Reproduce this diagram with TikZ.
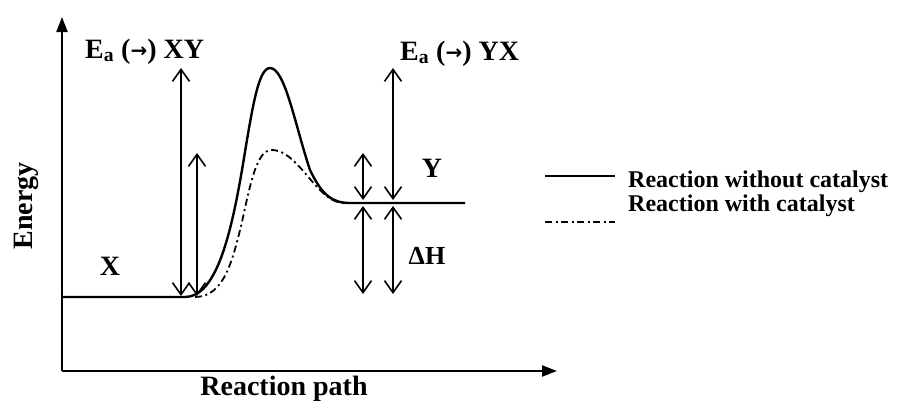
\documentclass[tikz,border=0pt]{standalone}
\usepackage{fontspec}
\setmainfont{Liberation Serif}
\newfontfamily\arrfont{DejaVu Sans}
\usetikzlibrary{arrows.meta}
\newcommand{\rarr}{{\arrfont\bfseries\fontsize{20}{22}\selectfont\raisebox{1pt}{\char"2192}}}
\tikzset{
  axis/.style={line width=2.2pt,-{Triangle[length=15pt,width=11pt]}},
  curve/.style={line width=2.4pt},
  catcurve/.style={line width=1.8pt,dash pattern=on 7pt off 3.5pt on 2pt off 3.5pt},
  dbl/.style={line width=1.6pt,{Straight Barb[length=12pt,width=17pt,line width=1.6pt]}-{Straight Barb[length=12pt,width=17pt,line width=1.6pt]}},
  lbl/.style={font=\bfseries\fontsize{28}{30}\selectfont,inner sep=0pt},
  leg/.style={font=\bfseries\fontsize{24}{26}\selectfont,inner sep=0pt,anchor=base west},
}
\begin{document}
\begin{tikzpicture}[x=1pt,y=-1pt]
\useasboundingbox (0,0) rectangle (902,415);
% axes
\coordinate (O) at (62,371);
\coordinate (Ytop) at (62,17);
\coordinate (Xend) at (557,371);
\draw[axis] (O) -- (Ytop);
\draw[axis] (O) -- (Xend);
% solid curve
\coordinate (s0) at (62,297);
\coordinate (s1) at (185,297);
\coordinate (s2) at (242,170);
\coordinate (pk) at (270,68);
\coordinate (s3) at (310,170);
\coordinate (s4) at (350,203);
\coordinate (s5) at (465,203);
\draw[curve,line join=round] (s0) -- (s1) .. controls (215,297) and (230,240) .. (s2)
  .. controls (252,110) and (258,68) .. (pk)
  .. controls (285,68) and (295,125) .. (s3)
  .. controls (322,195) and (332,203) .. (s4) -- (s5);
% catalyst curve
\coordinate (c0) at (195,297);
\coordinate (c1) at (242,222);
\coordinate (c2) at (272,150);
\coordinate (c3) at (320,190);
\coordinate (c4) at (345,203);
\draw[catcurve] (c0) .. controls (225,297) and (233,258) .. (c1)
  .. controls (252,175) and (258,150) .. (c2)
  .. controls (290,150) and (305,175) .. (c3)
  .. controls (328,198) and (335,203) .. (c4);
% double arrows
\coordinate (a1t) at (181,68);  \coordinate (a1b) at (181,296);
\coordinate (a2t) at (197,153); \coordinate (a2b) at (197,296);
\coordinate (a3t) at (363,153); \coordinate (a3b) at (363,200);
\coordinate (a4t) at (393,68);  \coordinate (a4b) at (393,200);
\coordinate (a5t) at (363,206); \coordinate (a5b) at (363,294);
\coordinate (a6t) at (393,206); \coordinate (a6b) at (393,294);
\draw[dbl] (a1t) -- (a1b);
\draw[dbl] (a2t) -- (a2b);
\draw[dbl] (a3t) -- (a3b);
\draw[dbl] (a4t) -- (a4b);
\draw[dbl] (a5t) -- (a5b);
\draw[dbl] (a6t) -- (a6b);
% labels
\node[lbl,anchor=base west] (eaxy) at (85,58) {E\textsubscript{a} (\rarr) XY};
\node[lbl,anchor=base west] (eayx) at (400,60) {E\textsubscript{a} (\rarr) YX};
\node[lbl,anchor=base] (X) at (110,275) {X};
\node[lbl,anchor=base] (Y) at (432,177) {Y};
\node[lbl,anchor=base,font=\bfseries\fontsize{26}{28}\selectfont] (dH) at (427,264) {ΔH};
\node[lbl,rotate=90] (energy) at (26,206) {Energy};
\node[lbl,anchor=base] (rp) at (284,395) {Reaction path};
% legend
\coordinate (l1a) at (545,176); \coordinate (l1b) at (615,176);
\coordinate (l2a) at (545,222); \coordinate (l2b) at (615,222);
\draw[line width=1.8pt] (l1a) -- (l1b);
\draw[catcurve,line width=1.6pt] (l2a) -- (l2b);
\node[leg] (leg1) at (628,187) {Reaction without catalyst};
\node[leg] (leg2) at (628,211) {Reaction with catalyst};
\end{tikzpicture}
\end{document}
